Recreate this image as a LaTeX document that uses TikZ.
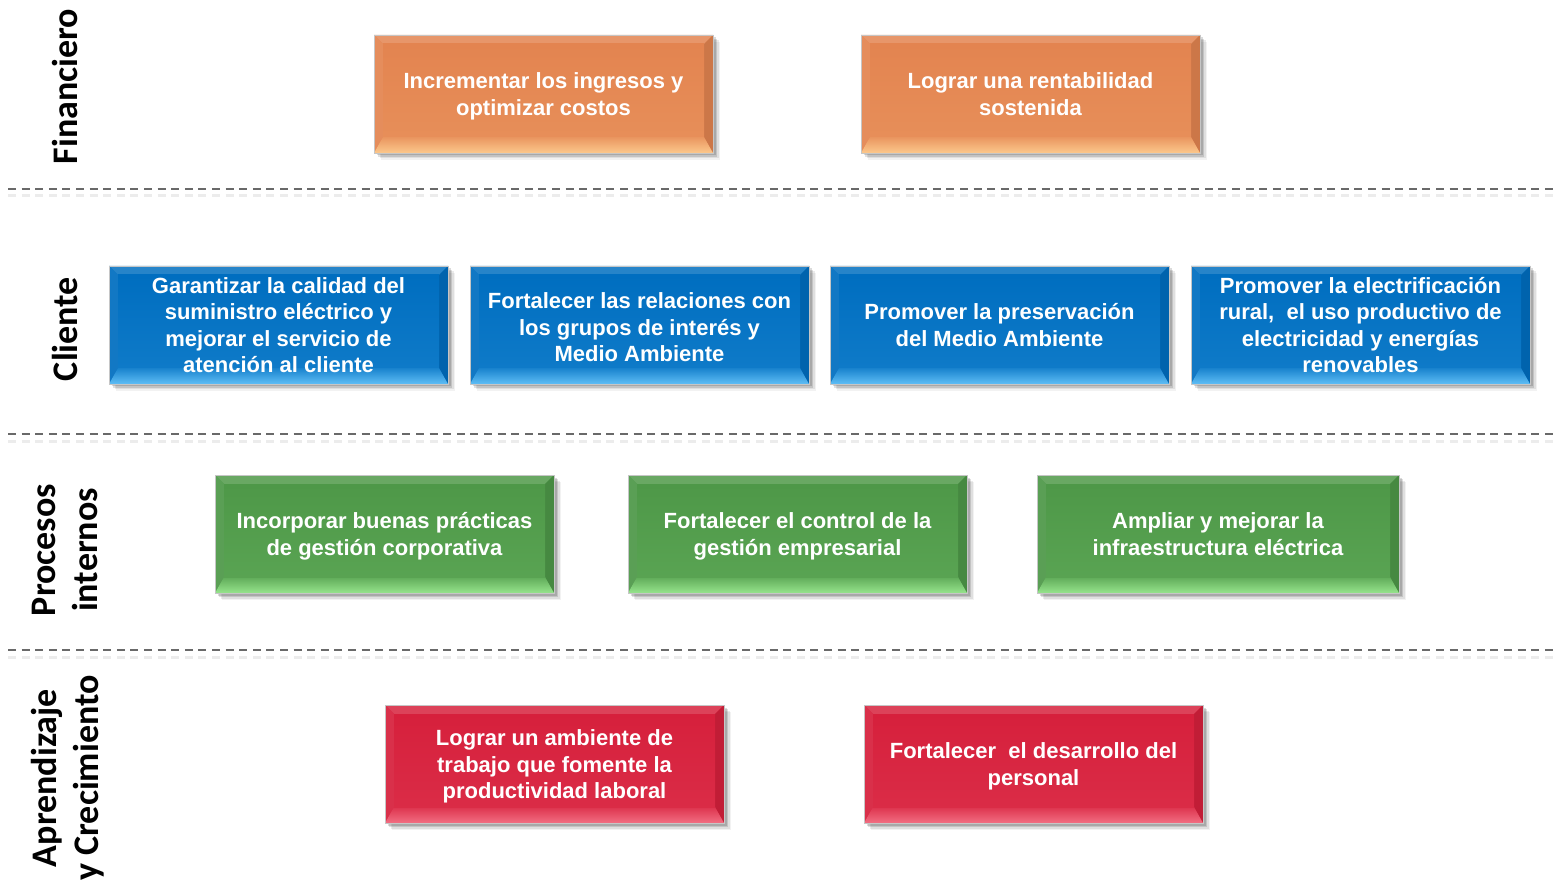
\documentclass[tikz,border=0pt]{standalone}
\usepackage{fontspec}
\setmainfont{Liberation Sans}
\newfontfamily\labelfont{Carlito}
\usetikzlibrary{shadows}

\definecolor{orangeface}{RGB}{227,132,80}
\definecolor{orangelight}{RGB}{252,200,140}
\definecolor{blueface}{RGB}{0,110,192}
\definecolor{bluelight}{RGB}{95,190,245}
\definecolor{greenface}{RGB}{78,152,72}
\definecolor{greenlight}{RGB}{150,228,140}
\definecolor{redface}{RGB}{214,32,60}
\definecolor{redlight}{RGB}{242,110,130}
\definecolor{sepgray}{RGB}{105,105,105}

\newcommand{\lift}{\rule{0pt}{21pt}}

\tikzset{
  goal/.style 2 args={draw=gray!45, line width=0.6pt, fill=#1,
    minimum width=339pt, minimum height=118pt, inner sep=0pt,
    align=center, text=white, font=\bfseries\fontsize{22}{26.5}\selectfont,
    drop shadow={shadow xshift=2.5pt, shadow yshift=-2.5pt, opacity=0.14, fill=black},
    drop shadow={shadow xshift=4pt, shadow yshift=-4pt, opacity=0.12, fill=black},
    drop shadow={shadow xshift=5.5pt, shadow yshift=-5.5pt, opacity=0.08, fill=black},
    drop shadow={shadow xshift=7pt, shadow yshift=-7pt, opacity=0.05, fill=black},
    path picture={
      \coordinate (bnw) at (path picture bounding box.north west);
      \coordinate (bne) at (path picture bounding box.north east);
      \coordinate (bsw) at (path picture bounding box.south west);
      \coordinate (bse) at (path picture bounding box.south east);
      \coordinate (inw) at ([shift={(9pt,-9pt)}]bnw);
      \coordinate (ine) at ([shift={(-9pt,-9pt)}]bne);
      \coordinate (isw) at ([shift={(9pt,16pt)}]bsw);
      \coordinate (ise) at ([shift={(-9pt,16pt)}]bse);
      \fill[#1!85!white] (bnw) -- (bne) -- (ine) -- (inw) -- cycle;
      \fill[#1!93!white] (bnw) -- (inw) -- (isw) -- (bsw) -- cycle;
      \fill[#1!90!black] (bne) -- (ine) -- (ise) -- (bse) -- cycle;
      \shade[top color=#1!75!#2, bottom color=#2] (bsw) -- (isw) -- (ise) -- (bse) -- cycle;
      \shade[top color=#1, bottom color=#1!85!#2] (inw) rectangle (ise);
    }},
  persp/.style={rotate=90, inner sep=0pt, align=center,
    font=\labelfont\bfseries\fontsize{36}{42}\selectfont},
  sepline/.style={draw=sepgray, line width=2.4pt, dash pattern=on 8pt off 5.6pt},
  sepshadow/.style={draw=gray!15, line width=3pt, dash pattern=on 8pt off 5.6pt}
}

\begin{document}
\begin{tikzpicture}[x=1pt,y=-1pt]
    \useasboundingbox (0,0) rectangle (1558,882);

    \node[persp, anchor=base] (fin) at (77,86.5) {Financiero};
    \node[persp, anchor=base] (cli) at (77,329) {Cliente};
    \node[persp] (pro) at (65.4,550) {Procesos\\internos};
    \node[persp] (apr) at (67.9,778) {Aprendizaje\\y Crecimiento};

    \draw[sepshadow] (8,196) -- (1558,196);
    \draw[sepline] (8,189) -- (1558,189);
    \draw[sepshadow] (8,441) -- (1558,441);
    \draw[sepline] (8,434) -- (1558,434);
    \draw[sepshadow] (8,657) -- (1558,657);
    \draw[sepline] (8,650) -- (1558,650);

    \node[goal={orangeface}{orangelight}] (ingresos) at (543.5,94) {\lift Incrementar los ingresos y\\optimizar costos};
    \node[goal={orangeface}{orangelight}] (rentab) at (1030.5,94) {Lograr una rentabilidad\\sostenida};

    \node[goal={blueface}{bluelight}] (calidad) at (278.5,325) {Garantizar la calidad del\\suministro eléctrico y\\mejorar el servicio de\\atención al cliente};
    \node[goal={blueface}{bluelight}] (relac) at (639.5,325) {\lift Fortalecer las relaciones con\\los grupos de interés y\\Medio Ambiente};
    \node[goal={blueface}{bluelight}] (preserv) at (999.5,325) {Promover la preservación\\del Medio Ambiente};
    \node[goal={blueface}{bluelight}] (electr) at (1360.5,325) {Promover la electrificación\\rural,\ \ el uso productivo de\\electricidad y energías\\renovables};

    \node[goal={greenface}{greenlight}] (practicas) at (384.5,534) {\lift Incorporar buenas prácticas\\de gestión corporativa};
    \node[goal={greenface}{greenlight}] (control) at (797.5,534) {\lift Fortalecer el control de la\\gestión empresarial};
    \node[goal={greenface}{greenlight}, minimum width=362pt] (infra) at (1218,534) {Ampliar y mejorar la\\infraestructura eléctrica};

    \node[goal={redface}{redlight}] (ambiente) at (554.5,764) {\lift Lograr un ambiente de\\trabajo que fomente la\\productividad laboral};
    \node[goal={redface}{redlight}] (personal) at (1033.5,764) {\lift Fortalecer\ \ el desarrollo del\\personal};
\end{tikzpicture}
\end{document}
